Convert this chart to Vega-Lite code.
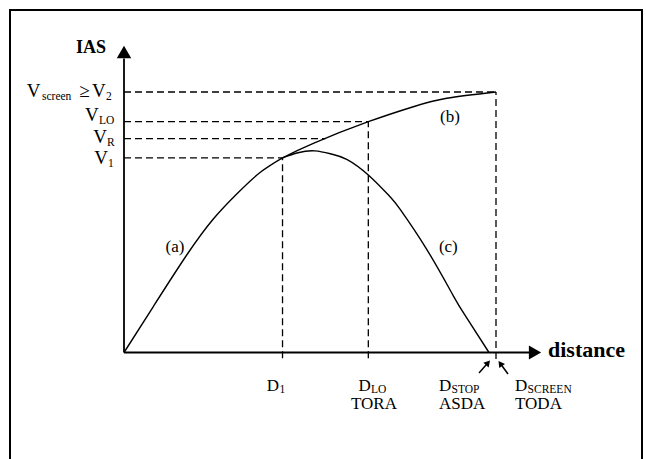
{
  "$schema": "https://vega.github.io/schema/vega-lite/v6.json",
  "width": 646,
  "height": 459,
  "autosize": {"type": "none"},
  "padding": 0,
  "background": "white",
  "config": {"view": {"stroke": null}},
  "datasets": {
    "curves": [
      {"curve": "a", "distance": 0, "ias": 0},
      {"curve": "a", "distance": 7.33, "ias": 15.33},
      {"curve": "a", "distance": 15.68, "ias": 32.5},
      {"curve": "a", "distance": 22.33, "ias": 44.5},
      {"curve": "a", "distance": 28.18, "ias": 52.83},
      {"curve": "a", "distance": 34, "ias": 60},
      {"curve": "a", "distance": 39.63, "ias": 64.9},
      {"curve": "b", "distance": 39.63, "ias": 64.9},
      {"curve": "b", "distance": 47.33, "ias": 69.73},
      {"curve": "b", "distance": 61.08, "ias": 76.93},
      {"curve": "b", "distance": 72.33, "ias": 81.93},
      {"curve": "b", "distance": 80.68, "ias": 84.73},
      {"curve": "b", "distance": 93, "ias": 86.83},
      {"curve": "c", "distance": 39.63, "ias": 64.9},
      {"curve": "c", "distance": 43.5, "ias": 66.6},
      {"curve": "c", "distance": 47.75, "ias": 67.2},
      {"curve": "c", "distance": 52, "ias": 66.1},
      {"curve": "c", "distance": 55.68, "ias": 64.4},
      {"curve": "c", "distance": 61.08, "ias": 59.17},
      {"curve": "c", "distance": 66.5, "ias": 51.93},
      {"curve": "c", "distance": 69, "ias": 47.8},
      {"curve": "c", "distance": 75.68, "ias": 34.4},
      {"curve": "c", "distance": 82.33, "ias": 18.9},
      {"curve": "c", "distance": 85.4, "ias": 12.1},
      {"curve": "c", "distance": 91.25, "ias": 0}
    ],
    "guides": [
      {"x1": 0, "y1": 86.83, "x2": 93, "y2": 86.83},
      {"x1": 0, "y1": 76.93, "x2": 61.08, "y2": 76.93},
      {"x1": 0, "y1": 71.27, "x2": 50.4, "y2": 71.27},
      {"x1": 0, "y1": 64.9, "x2": 39.63, "y2": 64.9},
      {"x1": 39.63, "y1": -1.9, "x2": 39.63, "y2": 64.9},
      {"x1": 61.08, "y1": -1.9, "x2": 61.08, "y2": 76.93},
      {"x1": 93, "y1": -2.2, "x2": 93, "y2": 86.83}
    ],
    "axes": [
      {"x1": 0, "y1": 0, "x2": 0, "y2": 98},
      {"x1": 0, "y1": 0, "x2": 101.5, "y2": 0}
    ],
    "pointers": [
      {"x1": 88.75, "y1": -6.83, "x2": 91, "y2": -3.43},
      {"x1": 96, "y1": -7.17, "x2": 94.08, "y2": -3.67}
    ],
    "heads": [
      {"name": "ias", "x": 0, "y": 100.2},
      {"name": "distance", "x": 102.75, "y": 0},
      {"name": "stop", "x": 91, "y": -3.43},
      {"name": "screen", "x": 94.08, "y": -3.67}
    ],
    "frame": [{"x1": -28.5, "y1": 114.17, "x2": 129.5, "y2": -40}],
    "leftText": [
      {"x": -24.33, "y": 85.27, "text": "V"},
      {"x": -11.18, "y": 85.27, "text": "≥"},
      {"x": -8.0, "y": 85.27, "text": "V"},
      {"x": -9.75, "y": 77.27, "text": "V"},
      {"x": -7.68, "y": 69.73, "text": "V"},
      {"x": -7.43, "y": 62.73, "text": "V"}
    ],
    "mainText": [
      {"x": 35.67, "y": -12.83, "text": "D"},
      {"x": 58.63, "y": -12.83, "text": "D"},
      {"x": 56.75, "y": -18.83, "text": "TORA"},
      {"x": 78.75, "y": -12.83, "text": "D"},
      {"x": 78.75, "y": -18.83, "text": "ASDA"},
      {"x": 97.75, "y": -12.83, "text": "D"},
      {"x": 97.75, "y": -18.83, "text": "TODA"}
    ],
    "subText": [
      {"x": -20.5, "y": 84.33, "text": "screen"},
      {"x": -4.5, "y": 84.33, "text": "2"},
      {"x": -6.28, "y": 76.33, "text": "LO"},
      {"x": -4.25, "y": 69.0, "text": "R"},
      {"x": -4.0, "y": 62.0, "text": "1"},
      {"x": 38.9, "y": -13.5, "text": "1"},
      {"x": 61.75, "y": -13.5, "text": "LO"},
      {"x": 81.9, "y": -13.5, "text": "STOP"},
      {"x": 100.9, "y": -13.5, "text": "SCREEN"}
    ],
    "curveText": [
      {"x": 12.75, "y": 35.27, "text": "(a)"},
      {"x": 81.5, "y": 78.6, "text": "(b)"},
      {"x": 81.08, "y": 35.27, "text": "(c)"}
    ],
    "iasText": [{"x": -12, "y": 99.93, "text": "IAS"}],
    "distText": [{"x": 106, "y": -1.5, "text": "distance"}]
  },
  "layer": [
    {
      "data": {"name": "frame"},
      "mark": {"type": "rect", "fill": null, "stroke": "black", "strokeWidth": 2},
      "encoding": {
        "x": {"field": "x1", "type": "quantitative", "scale": {"domain": [-31, 130.5], "nice": false, "zero": false}, "axis": null},
        "x2": {"field": "x2"},
        "y": {"field": "y1", "type": "quantitative", "scale": {"domain": [-35.5, 117.5], "nice": false, "zero": false}, "axis": null},
        "y2": {"field": "y2"}
      }
    },
    {
      "data": {"name": "guides"},
      "mark": {"type": "rule", "color": "black", "strokeWidth": 1.3, "strokeDash": [7, 4]},
      "encoding": {
        "x": {"field": "x1", "type": "quantitative"},
        "x2": {"field": "x2"},
        "y": {"field": "y1", "type": "quantitative"},
        "y2": {"field": "y2"}
      }
    },
    {
      "data": {"name": "curves"},
      "mark": {"type": "line", "color": "black", "strokeWidth": 1.4, "interpolate": "natural"},
      "encoding": {
        "x": {"field": "distance", "type": "quantitative"},
        "y": {"field": "ias", "type": "quantitative"},
        "detail": {"field": "curve"}
      }
    },
    {
      "data": {"name": "axes"},
      "mark": {"type": "rule", "color": "black", "strokeWidth": 1.8},
      "encoding": {
        "x": {"field": "x1", "type": "quantitative"},
        "x2": {"field": "x2"},
        "y": {"field": "y1", "type": "quantitative"},
        "y2": {"field": "y2"}
      }
    },
    {
      "data": {"name": "pointers"},
      "mark": {"type": "rule", "color": "black", "strokeWidth": 1.5},
      "encoding": {
        "x": {"field": "x1", "type": "quantitative"},
        "x2": {"field": "x2"},
        "y": {"field": "y1", "type": "quantitative"},
        "y2": {"field": "y2"}
      }
    },
    {
      "data": {"name": "heads"},
      "transform": [{"filter": "datum.name === 'ias'"}],
      "mark": {"type": "point", "shape": "triangle-up", "filled": true, "color": "black", "opacity": 1, "size": 210, "strokeWidth": 0},
      "encoding": {"x": {"field": "x", "type": "quantitative"}, "y": {"field": "y", "type": "quantitative"}}
    },
    {
      "data": {"name": "heads"},
      "transform": [{"filter": "datum.name === 'distance'"}],
      "mark": {"type": "point", "shape": "triangle-right", "filled": true, "color": "black", "opacity": 1, "size": 200, "strokeWidth": 0},
      "encoding": {"x": {"field": "x", "type": "quantitative"}, "y": {"field": "y", "type": "quantitative"}}
    },
    {
      "data": {"name": "heads"},
      "transform": [{"filter": "datum.name === 'stop'"}],
      "mark": {"type": "point", "shape": "triangle-up", "filled": true, "color": "black", "opacity": 1, "size": 50, "strokeWidth": 0, "angle": 41},
      "encoding": {"x": {"field": "x", "type": "quantitative"}, "y": {"field": "y", "type": "quantitative"}}
    },
    {
      "data": {"name": "heads"},
      "transform": [{"filter": "datum.name === 'screen'"}],
      "mark": {"type": "point", "shape": "triangle-up", "filled": true, "color": "black", "opacity": 1, "size": 50, "strokeWidth": 0, "angle": 324},
      "encoding": {"x": {"field": "x", "type": "quantitative"}, "y": {"field": "y", "type": "quantitative"}}
    },
    {
      "data": {"name": "leftText"},
      "mark": {"type": "text", "font": "Liberation Serif", "fontSize": 19, "align": "left", "baseline": "alphabetic", "color": "black"},
      "encoding": {"x": {"field": "x", "type": "quantitative"}, "y": {"field": "y", "type": "quantitative"}, "text": {"field": "text"}}
    },
    {
      "data": {"name": "mainText"},
      "mark": {"type": "text", "font": "Liberation Serif", "fontSize": 17, "align": "left", "baseline": "alphabetic", "color": "black"},
      "encoding": {"x": {"field": "x", "type": "quantitative"}, "y": {"field": "y", "type": "quantitative"}, "text": {"field": "text"}}
    },
    {
      "data": {"name": "subText"},
      "mark": {"type": "text", "font": "Liberation Serif", "fontSize": 11.5, "align": "left", "baseline": "alphabetic", "color": "black"},
      "encoding": {"x": {"field": "x", "type": "quantitative"}, "y": {"field": "y", "type": "quantitative"}, "text": {"field": "text"}}
    },
    {
      "data": {"name": "curveText"},
      "mark": {"type": "text", "font": "Liberation Serif", "fontSize": 17, "align": "center", "baseline": "middle", "color": "black"},
      "encoding": {"x": {"field": "x", "type": "quantitative"}, "y": {"field": "y", "type": "quantitative"}, "text": {"field": "text"}}
    },
    {
      "data": {"name": "iasText"},
      "mark": {"type": "text", "font": "Liberation Serif", "fontWeight": "bold", "fontSize": 18, "align": "left", "baseline": "alphabetic", "color": "black"},
      "encoding": {"x": {"field": "x", "type": "quantitative"}, "y": {"field": "y", "type": "quantitative"}, "text": {"field": "text"}}
    },
    {
      "data": {"name": "distText"},
      "mark": {"type": "text", "font": "Liberation Serif", "fontWeight": "bold", "fontSize": 22, "align": "left", "baseline": "alphabetic", "color": "black"},
      "encoding": {"x": {"field": "x", "type": "quantitative"}, "y": {"field": "y", "type": "quantitative"}, "text": {"field": "text"}}
    }
  ]
}
